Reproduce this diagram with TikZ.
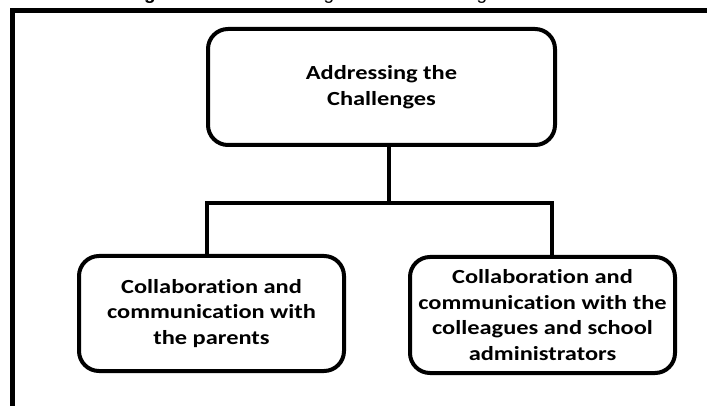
\documentclass[tikz,border=0pt]{standalone}
\usepackage{fontspec}
\setmainfont{Carlito}
\newfontfamily\boxfont[FakeStretch=1.22,Ligatures=NoCommon]{Carlito}
\newfontfamily\capfont{Liberation Sans}

\tikzset{
  chbox/.style={draw,line width=4pt,rounded corners=20pt,inner sep=0pt,
    align=center,font=\boxfont\bfseries\fontsize{20}{25.5}\selectfont},
  link/.style={line width=4pt},
}

\begin{document}
\begin{tikzpicture}[x=1pt,y=-1pt]
  \useasboundingbox (0,0) rectangle (707,406);
  \clip (0,0) rectangle (707,406);

  % caption line above the frame, mostly cut off
  \node[font=\capfont\bfseries\fontsize{19}{22}\selectfont,anchor=base,inner sep=0pt] (capA) at (150,-0.5) {g};
  \node[font=\capfont\fontsize{19}{22}\selectfont,anchor=base,inner sep=0pt] (capB) at (329,-0.5) {g};
  \node[font=\capfont\fontsize{19}{22}\selectfont,anchor=base,inner sep=0pt] (capC) at (482,-0.5) {g};

  % frame
  \draw[line width=5pt] (12.5,406) -- (12.5,10.5) -- (707,10.5);

  \node[chbox,minimum width=347pt,minimum height=116pt] (top) at (381.5,87)
    {Addressing the\\Challenges};
  \node[chbox,minimum width=265pt,minimum height=115pt] (left) at (211.5,313.5)
    {Collaboration and\\communication with\\the parents};
  \node[chbox,minimum width=265pt,minimum height=116pt] (right) at (542.5,315)
    {Collaboration and\\communication with the\\colleagues and school\\administrators};

  \coordinate (hub) at (389,203);
  \coordinate (busL) at (207,203);
  \coordinate (busR) at (552,203);
  \draw[link] (top.south -| hub) -- (hub);
  \draw[link] (left.north -| busL) -- (busL) -- (busR) -- (right.north -| busR);
\end{tikzpicture}
\end{document}
